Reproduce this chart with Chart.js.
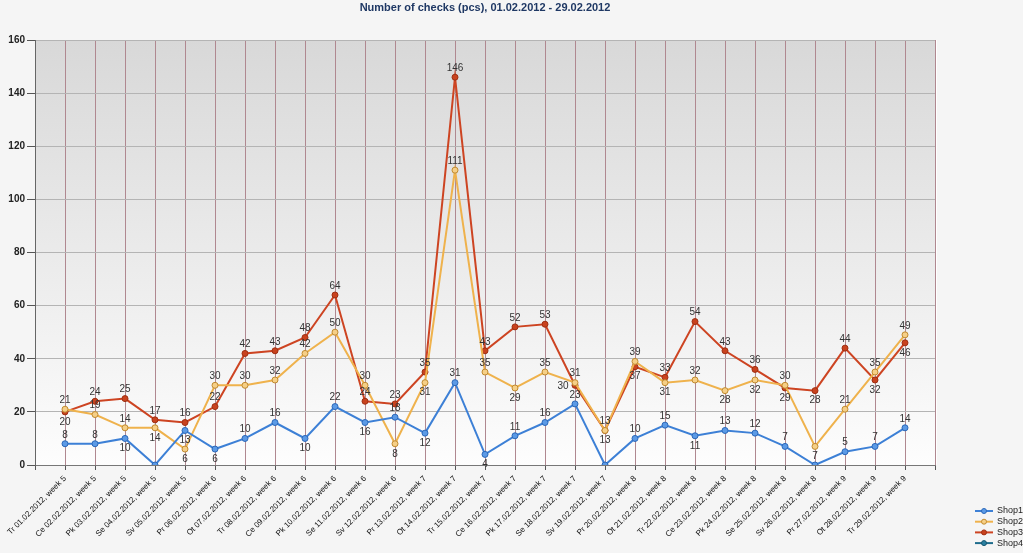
<!DOCTYPE html>
<html>
<head>
<meta charset="utf-8">
<script src="https://cdn.jsdelivr.net/npm/chart.js@4/dist/chart.umd.min.js"></script>
<style>
html,body{margin:0;padding:0;background:#f5f5f5;}
#wrap{width:1023px;height:553px;position:relative;}
</style>
</head>
<body>
<div id="wrap"><canvas id="c" width="1023" height="553"></canvas></div>
<script>
const titleText = 'Number of checks (pcs), 01.02.2012 - 29.02.2012';
const categories = [
 'Tr 01.02.2012, week 5','Ce 02.02.2012, week 5','Pk 03.02.2012, week 5','Se 04.02.2012, week 5','Sv 05.02.2012, week 5',
 'Pr 06.02.2012, week 6','Ot 07.02.2012, week 6','Tr 08.02.2012, week 6','Ce 09.02.2012, week 6','Pk 10.02.2012, week 6',
 'Se 11.02.2012, week 6','Sv 12.02.2012, week 6','Pr 13.02.2012, week 7','Ot 14.02.2012, week 7','Tr 15.02.2012, week 7',
 'Ce 16.02.2012, week 7','Pk 17.02.2012, week 7','Se 18.02.2012, week 7','Sv 19.02.2012, week 7','Pr 20.02.2012, week 8',
 'Ot 21.02.2012, week 8','Tr 22.02.2012, week 8','Ce 23.02.2012, week 8','Pk 24.02.2012, week 8','Se 25.02.2012, week 8',
 'Sv 26.02.2012, week 8','Pr 27.02.2012, week 9','Ot 28.02.2012, week 9','Tr 29.02.2012, week 9'
];
const seriesNames = ['Shop1','Shop2','Shop3','Shop4'];
const shop1 = [8,8,10,0,13,6,10,16,10,22,16,18,12,31,4,11,16,23,0,10,15,11,13,12,7,0,5,7,14];
const shop2 = [21,19,14,14,6,30,30,32,42,50,30,8,31,111,35,29,35,31,13,39,31,32,28,32,30,7,21,35,49];
const shop3 = [20,24,25,17,16,22,42,43,48,64,24,23,35,146,43,52,53,30,13,37,33,54,43,36,29,28,44,32,46];
const shop4 = [];
const yTicks = {min:0, max:160, step:20};

// value-label placement per point (a = above, b = below, l = left)
const place1 = ['a','a','b','a','b','b','a','a','b','a','b','a','b','a','b','a','a','a','a','a','a','b','a','a','a','a','a','a','a'];
const place2 = ['a','a','a','b','b','a','a','a','a','a','a','b','b','a','a','b','a','a','b','a','b','a','b','b','a','b','a','a','a'];
const place3 = ['b','a','a','a','a','a','a','a','a','a','a','a','a','a','a','a','a','l','a','b','a','a','a','a','b','b','a','b','b'];

const colors = {
  line: ['#3d80d6','#efb24c','#cd4422','#1e6c8c'],
  fill: ['#5b9ae6','#f6cf86','#c9421e','#2a7fa0'],
  border: ['#2c68b8','#c08a30','#9e2f12','#145670']
};

function pad(arr){ return [null, ...arr.map(v => v), null]; }
const labels = ['', ...categories, ''];
const series = [shop1, shop2, shop3, shop4];
const places = [place1, place2, place3, []];

const datasets = series.map((s, i) => ({
  label: seriesNames[i],
  data: s.length ? pad(s) : [],
  borderColor: colors.line[i],
  backgroundColor: colors.fill[i],
  pointBackgroundColor: colors.fill[i],
  pointBorderColor: colors.border[i],
  pointRadius: 3,
  pointBorderWidth: 1,
  borderWidth: 2,
  tension: 0,
  spanGaps: false
}));

const bgPlugin = {
  id: 'plotBg',
  beforeDraw(chart){
    const {ctx, chartArea:a} = chart;
    ctx.save();
    const g = ctx.createLinearGradient(0, a.top, 0, a.bottom);
    g.addColorStop(0, '#d8d8d8');
    g.addColorStop(1, '#fdfdfd');
    ctx.fillStyle = g;
    ctx.fillRect(a.left, a.top, a.right - a.left, a.bottom - a.top);
    ctx.strokeStyle = '#ffffff';
    ctx.lineWidth = 1;
    ctx.beginPath();
    ctx.moveTo(a.right + 1.5, a.top);
    ctx.lineTo(a.right + 1.5, a.bottom);
    ctx.stroke();
    ctx.restore();
  }
};

const labelPlugin = {
  id: 'valueLabels',
  afterDatasetsDraw(chart){
    const ctx = chart.ctx;
    ctx.save();
    ctx.font = '10px "Liberation Sans", Arial, sans-serif';
    ctx.fillStyle = '#333333';
    ctx.textAlign = 'center';
    ctx.textBaseline = 'middle';
    chart.data.datasets.forEach((ds, di) => {
      const meta = chart.getDatasetMeta(di);
      const pl = places[di];
      meta.data.forEach((pt, idx) => {
        const v = ds.data[idx];
        if (v === null || v === undefined || v === 0) return;
        const k = pl[idx - 1] || 'a';
        let x = pt.x, y = pt.y;
        if (k === 'a') y -= 9;
        else if (k === 'b') y += 10;
        else if (k === 'l') { x -= 12; y += 1; }
        ctx.fillText(String(v), x, y);
      });
    });
    ctx.restore();
  }
};

const legendPlugin = {
  id: 'sideLegend',
  afterDraw(chart){
    const ctx = chart.ctx;
    ctx.save();
    ctx.font = '9px "Liberation Sans", Arial, sans-serif';
    ctx.textBaseline = 'middle';
    ctx.textAlign = 'left';
    chart.data.datasets.forEach((ds, i) => {
      const y = 511 + i * 10.7;
      ctx.strokeStyle = colors.line[i];
      ctx.lineWidth = 2;
      ctx.beginPath(); ctx.moveTo(975, y); ctx.lineTo(993, y); ctx.stroke();
      ctx.fillStyle = colors.fill[i];
      ctx.strokeStyle = colors.border[i];
      ctx.lineWidth = 1;
      ctx.beginPath(); ctx.arc(984, y, 2.5, 0, Math.PI*2); ctx.fill(); ctx.stroke();
      ctx.fillStyle = '#222';
      ctx.fillText(ds.label, 997, y);
    });
    ctx.restore();
  }
};

new Chart(document.getElementById('c'), {
  type: 'line',
  data: { labels, datasets },
  plugins: [bgPlugin, labelPlugin, legendPlugin],
  options: {
    responsive: false,
    animation: false,
    events: [],
    layout: { padding: { left: 0, right: 88, top: 0, bottom: 0 } },
    plugins: {
      legend: { display: false },
      tooltip: { enabled: false },
      title: {
        display: true,
        text: titleText,
        fullSize: false,
        color: '#1f3864',
        font: { family: '"Liberation Sans", Arial, sans-serif', size: 11, weight: 'bold' },
        padding: { top: 1, bottom: 25.8 }
      }
    },
    scales: {
      x: {
        type: 'category',
        offset: false,
        afterFit(s){ s.height = 88; },
        grid: { color: '#b08890', lineWidth: 1, drawTicks: true, tickLength: 5, tickColor: '#555555' },
        border: { color: '#777777', width: 1 },
        ticks: {
          autoSkip: false, minRotation: 45, maxRotation: 45, padding: 4,
          color: '#111111',
          font: { family: '"Liberation Sans", Arial, sans-serif', size: 8 }
        }
      },
      y: {
        min: yTicks.min, max: yTicks.max,
        afterFit(s){ s.width = 35; },
        grid: { color: '#b4b4b4', lineWidth: 1, drawTicks: true, tickLength: 8, tickColor: '#555555' },
        border: { color: '#666666', width: 1 },
        ticks: {
          stepSize: yTicks.step, padding: 2,
          color: '#222222',
          font: { family: '"Liberation Sans", Arial, sans-serif', size: 10, weight: 'bold' }
        }
      }
    }
  }
});
</script>
</body>
</html>
